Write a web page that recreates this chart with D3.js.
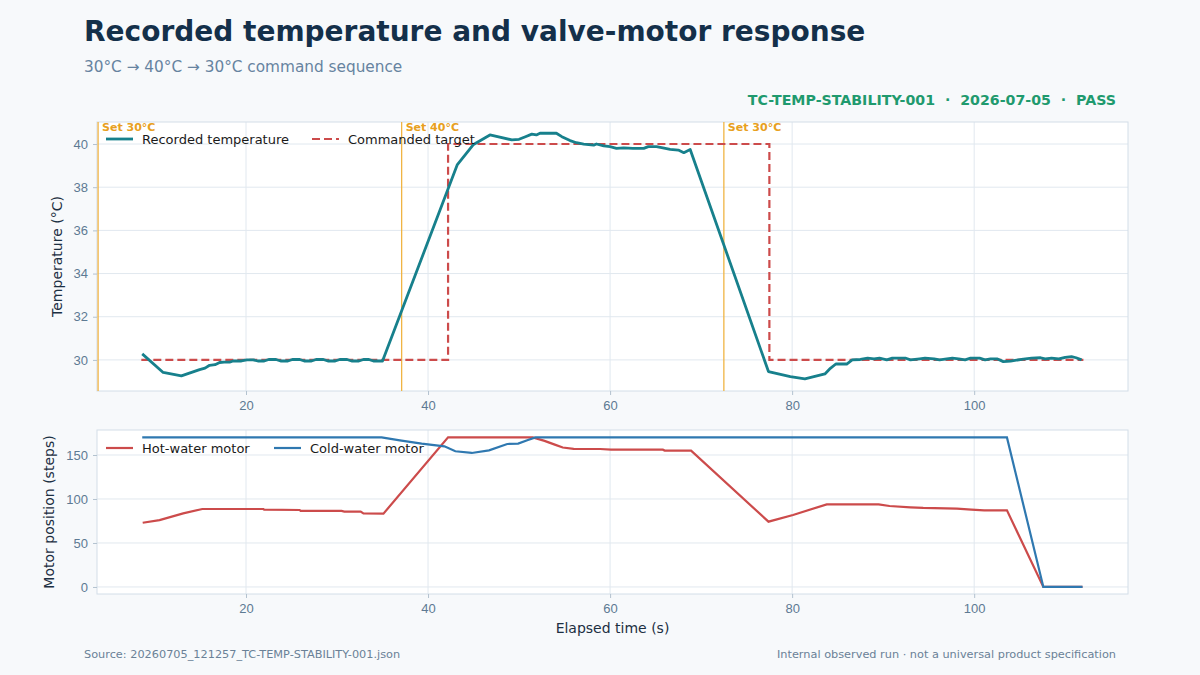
<!DOCTYPE html>
<html>
<head>
<meta charset="utf-8">
<script src="https://cdn.jsdelivr.net/npm/d3@7"></script>
<style>
  body { margin: 0; background: #f7f9fb; }
  svg { display: block; font-family: "DejaVu Sans", sans-serif; }
  .tick text { fill: #5d7a93; font-size: 13px; }
  .tick line { stroke: #b3c2cf; }
  .domain { display: none; }
  .grid line { stroke: #e1e8ef; stroke-width: 1; }
</style>
</head>
<body>
<svg id="chart" width="1200" height="675"></svg>
<script>
// recorded temperature [elapsed s, °C]
const temperature = [
  [8.6,30.28],[10.9,29.42],[12.9,29.26],[14.9,29.55],[15.5,29.62],[16.0,29.75],[16.6,29.78],[17.1,29.88],
  [17.6,29.9],[18.2,29.9],[18.6,29.95],[19.5,29.95],[20.1,30.0],[20.8,30.0],[21.3,29.95],[22.0,29.95],
  [22.5,30.02],[23.3,30.02],[23.8,29.95],[24.6,29.95],[25.1,30.02],[25.9,30.02],[26.4,29.95],[27.2,29.95],
  [27.7,30.02],[28.5,30.02],[29.0,29.95],[29.8,29.95],[30.3,30.02],[31.1,30.02],[31.6,29.95],[32.4,29.95],
  [32.9,30.02],[33.5,30.02],[34.0,29.95],[35.0,29.95],
  [43.2,39.03],[45.0,39.98],[46.8,40.42],[49.2,40.19],[50.0,40.22],[50.7,40.34],[51.4,40.46],[51.9,40.42],
  [52.3,40.5],[53.2,40.5],[54.1,40.5],[54.7,40.34],[55.6,40.16],[56.3,40.06],[57.1,40.0],[58.2,39.95],
  [58.5,40.0],[59.3,39.91],[60.0,39.88],[60.7,39.8],[61.5,39.82],[62.5,39.8],[63.7,39.8],[64.2,39.88],
  [65.1,39.88],[65.8,39.82],[66.6,39.75],[67.5,39.72],[68.1,39.6],[68.8,39.75],
  [77.4,29.46],[79.8,29.23],[81.4,29.12],[83.6,29.35],[84.2,29.61],[84.8,29.81],[86.0,29.81],[86.6,30.0],
  [87.5,30.02],[88.3,30.08],[89.0,30.05],[89.6,30.08],[90.4,30.0],[91.0,30.08],[92.5,30.08],[93.0,30.0],
  [94.0,30.05],[94.6,30.08],[95.6,30.05],[96.2,30.0],[97.0,30.05],[97.6,30.08],[98.3,30.05],[99.0,30.0],
  [99.6,30.08],[100.6,30.08],[101.2,30.0],[101.8,30.05],[102.5,30.05],[103.2,29.92],[104.0,29.94],[105.4,30.04],
  [106.3,30.08],[107.3,30.1],[107.8,30.05],[108.5,30.08],[109.3,30.05],[110.0,30.12],[110.7,30.15],[111.2,30.1],
  [111.8,30.0]
];

// commanded target [s, °C]
const target = [[8.5,30],[42.2,30],[42.2,40],[77.5,40],[77.5,30],[112,30]];

// setpoint commands
const setTimes = [3.75, 37.1, 72.5];
const setLabels = ["Set 30°C", "Set 40°C", "Set 30°C"];

// motor positions [s, steps]
const hotMotor = [
  [8.65,73],[10.5,76],[13.1,83.7],[15.2,88.6],[21.9,88.6],[22.0,87.8],[25.9,87.5],[26.0,86.4],
  [30.5,86.4],[30.8,85.6],[32.6,85.6],[32.9,83.7],[35.1,83.3],[42.2,170],[51.5,170],[52.8,166],
  [54.0,161.5],[54.8,158.5],[56.0,157],[58.9,156.8],[60.1,156],[65.8,156],[66.0,155],[68.9,155],
  [77.4,74.2],[80.1,81.8],[83.8,93.9],[89.5,93.9],[90.7,92],[93.0,90.5],[94.4,89.8],[98.1,89],
  [99.7,87.9],[101.1,87.1],[103.6,87.1],[107.6,0],[111.9,0]
];
const coldMotor = [
  [8.6,170],[34.9,170],[36.9,166.7],[39.3,162.9],[41.8,159.8],[43.0,154.2],[44.8,152.3],[46.7,155.3],
  [48.7,162.5],[49.9,162.9],[50.9,166.7],[51.8,170],[103.6,170],[107.6,0],[111.9,0]
];

const xTicks = [20, 40, 60, 80, 100];
const tempTicks = [30, 32, 34, 36, 38, 40];
const motorTicks = [0, 50, 100, 150];

const C = {
  temp: "#17808c", target: "#cc4b4b", set: "#f0b444", setText: "#e8a020",
  hot: "#cc4b4b", cold: "#2f78b0", frame: "#d3dee8"
};

const svg = d3.select("#chart");
const left = 97, right = 1128;
const top1 = 122, bot1 = 391, top2 = 430, bot2 = 594;

const x = d3.scaleLinear().domain([3.63, 116.9]).range([left, right]);
const yT = d3.scaleLinear().domain([28.56, 41.02]).range([bot1, top1]);
const yM = d3.scaleLinear().domain([-8, 178.4]).range([bot2, top2]);

// titles
svg.append("text").attr("x", 84).attr("y", 41)
  .attr("font-size", 28).attr("font-weight", "bold").attr("fill", "#14304a")
  .text("Recorded temperature and valve-motor response");
svg.append("text").attr("x", 84).attr("y", 72)
  .attr("font-size", 15.3).attr("fill", "#6683a0")
  .text("30°C → 40°C → 30°C command sequence");
svg.append("text").attr("x", 1116).attr("y", 105).attr("text-anchor", "end")
  .attr("font-size", 14.2).attr("font-weight", "bold").attr("fill", "#1f9a6e")
  .attr("xml:space", "preserve")
  .text("TC-TEMP-STABILITY-001  ·  2026-07-05  ·  PASS");

function panel(y, yTicks, top, bot, clipId) {
  const g = svg.append("g");
  g.append("rect").attr("x", left).attr("y", top).attr("width", right - left).attr("height", bot - top)
    .attr("fill", "#fff");
  g.append("g").attr("class", "grid")
    .selectAll("line").data(xTicks).join("line")
    .attr("x1", d => x(d)).attr("x2", d => x(d)).attr("y1", top).attr("y2", bot);
  g.append("g").attr("class", "grid")
    .selectAll("line").data(yTicks).join("line")
    .attr("x1", left).attr("x2", right).attr("y1", d => y(d)).attr("y2", d => y(d));
  g.append("rect").attr("x", left).attr("y", top).attr("width", right - left).attr("height", bot - top)
    .attr("fill", "none").attr("stroke", C.frame);
  g.append("g").attr("transform", `translate(0,${bot})`)
    .call(d3.axisBottom(x).tickValues(xTicks).tickSize(4).tickPadding(6));
  g.append("g").attr("transform", `translate(${left},0)`)
    .call(d3.axisLeft(y).tickValues(yTicks).tickSize(4).tickPadding(5));
  svg.append("clipPath").attr("id", clipId).append("rect")
    .attr("x", left).attr("y", top).attr("width", right - left).attr("height", bot - top);
  return g.append("g").attr("clip-path", `url(#${clipId})`);
}

// top panel: temperature
const p1 = panel(yT, tempTicks, top1, bot1, "c1");

p1.selectAll(".setline").data(setTimes).join("line")
  .attr("x1", d => x(d)).attr("x2", d => x(d)).attr("y1", top1).attr("y2", bot1)
  .attr("stroke", C.set).attr("stroke-width", 1.3);
svg.selectAll(".setlabel").data(setTimes).join("text")
  .attr("x", d => x(d) + 4).attr("y", top1 + 9)
  .attr("font-size", 11).attr("font-weight", "bold").attr("fill", C.setText)
  .text((d, i) => setLabels[i]);

const line1 = d3.line().x(d => x(d[0])).y(d => yT(d[1]));
p1.append("path").datum(target).attr("d", line1)
  .attr("fill", "none").attr("stroke", C.target).attr("stroke-width", 2.2)
  .attr("stroke-dasharray", "8,4");
p1.append("path").datum(temperature).attr("d", line1)
  .attr("fill", "none").attr("stroke", C.temp).attr("stroke-width", 2.8)
  .attr("stroke-linejoin", "round");

svg.append("text").attr("transform", `translate(62,${(top1 + bot1) / 2}) rotate(-90)`)
  .attr("text-anchor", "middle").attr("font-size", 14).attr("fill", "#1c2f42")
  .text("Temperature (°C)");

// bottom panel: motors
const p2 = panel(yM, motorTicks, top2, bot2, "c2");
const line2 = d3.line().x(d => x(d[0])).y(d => yM(d[1]));
p2.append("path").datum(hotMotor).attr("d", line2)
  .attr("fill", "none").attr("stroke", C.hot).attr("stroke-width", 2.2);
p2.append("path").datum(coldMotor).attr("d", line2)
  .attr("fill", "none").attr("stroke", C.cold).attr("stroke-width", 2.2);

svg.append("text").attr("transform", `translate(54,${(top2 + bot2) / 2}) rotate(-90)`)
  .attr("text-anchor", "middle").attr("font-size", 14).attr("fill", "#1c2f42")
  .text("Motor position (steps)");
svg.append("text").attr("x", (left + right) / 2).attr("y", 633)
  .attr("text-anchor", "middle").attr("font-size", 14).attr("fill", "#1c2f42")
  .text("Elapsed time (s)");

// legends
function legend(items, y) {
  items.forEach(it => {
    svg.append("line").attr("x1", it.x).attr("x2", it.x + 27).attr("y1", y).attr("y2", y)
      .attr("stroke", it.color).attr("stroke-width", it.w)
      .attr("stroke-dasharray", it.dash || null);
    svg.append("text").attr("x", it.x + 36).attr("y", y + 4.5)
      .attr("font-size", 13).attr("fill", "#1a1a1a").text(it.label);
  });
}
legend([
  { x: 106, color: C.temp, w: 2.8, label: "Recorded temperature" },
  { x: 312, color: C.target, w: 2.2, dash: "8,4", label: "Commanded target" }
], 139);
legend([
  { x: 106, color: C.hot, w: 2.2, label: "Hot-water motor" },
  { x: 274, color: C.cold, w: 2.2, label: "Cold-water motor" }
], 448);

// footer
svg.append("text").attr("x", 84).attr("y", 658)
  .attr("font-size", 11.3).attr("fill", "#6a8197")
  .text("Source: 20260705_121257_TC-TEMP-STABILITY-001.json");
svg.append("text").attr("x", 1116).attr("y", 658).attr("text-anchor", "end")
  .attr("font-size", 11.3).attr("fill", "#6a8197")
  .text("Internal observed run · not a universal product specification");
</script>
</body>
</html>
